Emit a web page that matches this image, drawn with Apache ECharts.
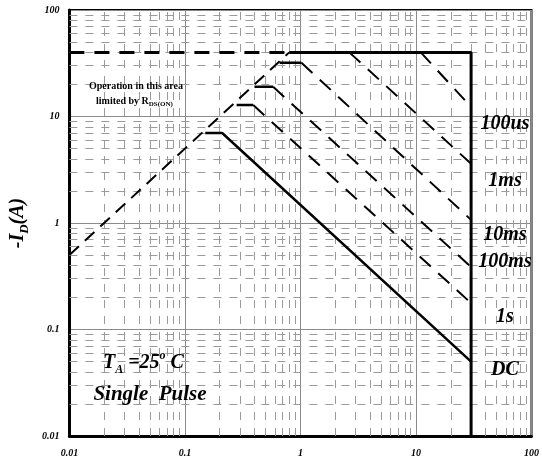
<!DOCTYPE html>
<html><head><meta charset="utf-8">
<script src="https://cdn.jsdelivr.net/npm/echarts@6/dist/echarts.min.js"></script>
<style>html,body{margin:0;padding:0;background:#fff}#c{width:542px;height:461px}</style>
</head><body><div id="c"></div>
<script>
// ---- data ----
const xTickLabels = ['0.01', '0.1', '1', '10', '100'];
const yTickLabels = ['0.01', '0.1', '1', '10', '100'];
const minorMultipliers = [2, 3, 4, 5, 6, 7, 8, 9];
const decades = [0.01, 0.1, 1, 10];
const rdsLimit = [[0.01, 0.5], [0.8, 40]];
const currentLimitDashed = [[0.01, 40], [0.8, 40]];
const soaBoundary = [[0.8, 40], [30, 40], [30, 0.01]];
const dcLine = [[0.15, 7], [0.21, 7], [30, 0.05]];
const kink1s = [[0.28, 12.8], [0.39, 12.8]];
const pulse1s = [[0.39, 12.8], [30, 0.177]];
const kink100ms = [[0.40, 19], [0.58, 19]];
const pulse100ms = [[0.58, 19], [30, 0.386]];
const kink10ms = [[0.66, 32], [1.02, 32]];
const pulse10ms = [[1.02, 32], [30, 1.07]];
const pulse1ms = [[2.65, 40], [30, 3.6]];
const pulse100us = [[11, 40], [30, 12.3]];
const pulseNames = ['100us', '1ms', '10ms', '100ms', '1s', 'DC'];
const pulseLabelY = [124, 181, 235, 262, 317, 370];

// ---- build ----
const SERIF = '"Liberation Serif", "Times New Roman", serif';
const minorVals = [];
decades.forEach(d => minorMultipliers.forEach(m => minorVals.push(+(d * m).toPrecision(3))));
const minorLine = {type: [8, 8], color: '#9a9a9a', width: 1};
const gridMarks = [];
minorVals.forEach(v => { gridMarks.push({xAxis: v}); gridMarks.push({yAxis: v}); });

function lbl(v) {
  const k = Math.round(Math.log10(v)) + 2;
  return xTickLabels[k] || '';
}
function lblY(v) {
  const k = Math.round(Math.log10(v)) + 2;
  return yTickLabels[k] || '';
}
function lineSeries(data, width, dash, z) {
  return {type: 'line', data: data, symbol: 'none', silent: true, animation: false, z: z || 6,
    lineStyle: {color: '#000', width: width, type: dash || 'solid', cap: 'butt'}};
}
const tickFont = {fontFamily: SERIF, fontWeight: 'bold', fontStyle: 'italic', fontSize: 10, color: '#000'};
const chart = echarts.init(document.getElementById('c'), null, {renderer: 'canvas'});
const bigFont = 'italic bold 20px ' + SERIF;
const graphics = pulseNames.map((n, i) => ({
  type: 'text', x: 505, y: pulseLabelY[i], z: 10,
  style: {text: n, font: bigFont, fill: '#000', align: 'center', verticalAlign: 'middle'}
}));
graphics.push({type: 'text', x: 136, y: 86, z: 10,
  style: {text: 'Operation in this area', font: 'bold 10px ' + SERIF, fill: '#000', align: 'center', verticalAlign: 'middle'}});
graphics.push({type: 'text', x: 96, y: 101, z: 10,
  style: {text: '{n|limited by R}{s|DS(ON)}', align: 'left', verticalAlign: 'middle',
    rich: {n: {fontFamily: SERIF, fontWeight: 'bold', fontSize: 10, lineHeight: 14, fill: '#000', color: '#000'},
           s: {fontFamily: SERIF, fontWeight: 'bold', fontSize: 7, lineHeight: 8, verticalAlign: 'bottom', fill: '#000', color: '#000'}}}});
graphics.push({type: 'text', x: 103, y: 363, z: 10,
  style: {text: '{b|T}{s|A}{b| =25}{p|o}{b| C}', align: 'left', verticalAlign: 'middle',
    rich: {b: {fontFamily: SERIF, fontWeight: 'bold', fontStyle: 'italic', fontSize: 20, lineHeight: 26, fill: '#000', color: '#000'},
           s: {fontFamily: SERIF, fontWeight: 'bold', fontStyle: 'italic', fontSize: 12, lineHeight: 12, verticalAlign: 'bottom', fill: '#000', color: '#000'},
           p: {fontFamily: SERIF, fontWeight: 'bold', fontStyle: 'italic', fontSize: 12, lineHeight: 12, verticalAlign: 'top', fill: '#000', color: '#000'}}}});
graphics.push({type: 'text', x: 150, y: 395, z: 10,
  style: {text: 'Single  Pulse', font: 'italic bold 21px ' + SERIF, fill: '#000', align: 'center', verticalAlign: 'middle'}});

chart.setOption({
  animation: false,
  backgroundColor: '#fff',
  grid: {left: 67, right: 7, top: 10, bottom: 25, show: true, borderColor: '#000', borderWidth: 2, backgroundColor: 'transparent'},
  xAxis: {type: 'log', logBase: 10, min: 0.01, max: 100,
    axisLine: {show: true, lineStyle: {color: '#000', width: 3}},
    axisTick: {show: false},
    axisLabel: Object.assign({margin: 12, formatter: lbl}, tickFont),
    splitLine: {show: true, lineStyle: {color: '#8a8a8a', width: 1}},
    minorTick: {show: false}, minorSplitLine: {show: false}},
  yAxis: {type: 'log', logBase: 10, min: 0.01, max: 100,
    axisLine: {show: true, lineStyle: {color: '#000', width: 3}},
    axisTick: {show: false},
    axisLabel: Object.assign({margin: 10, formatter: lblY}, tickFont),
    splitLine: {show: true, lineStyle: {color: '#8a8a8a', width: 1}},
    name: '{m|-I}{s|D}{m|(A)}', nameLocation: 'middle', nameGap: 38, nameRotate: 90,
    nameTextStyle: {rich: {
      m: {fontFamily: SERIF, fontWeight: 'bold', fontStyle: 'italic', fontSize: 20, lineHeight: 26, color: '#000'},
      s: {fontFamily: SERIF, fontWeight: 'bold', fontStyle: 'italic', fontSize: 13, lineHeight: 13, verticalAlign: 'bottom', color: '#000'}}}},
  series: [
    {type: 'line', data: [], symbol: 'none', silent: true, z: 1, lineStyle: {width: 0},
      markLine: {silent: true, z: 1, symbol: 'none', animation: false, label: {show: false}, lineStyle: minorLine, data: gridMarks}},
    lineSeries(currentLimitDashed, 3, [15, 10]),
    lineSeries(rdsLimit, 2, [13, 8]),
    lineSeries(soaBoundary, 3),
    lineSeries(dcLine, 2.5),
    lineSeries(kink1s, 2.5),
    lineSeries(pulse1s, 2, [15, 10]),
    lineSeries(kink100ms, 2.5),
    lineSeries(pulse100ms, 2, [15, 10]),
    lineSeries(kink10ms, 2.5),
    lineSeries(pulse10ms, 2, [15, 10]),
    lineSeries(pulse1ms, 2, [15, 10]),
    lineSeries(pulse100us, 2, [15, 10])
  ],
  graphic: graphics
});
</script></body></html>
